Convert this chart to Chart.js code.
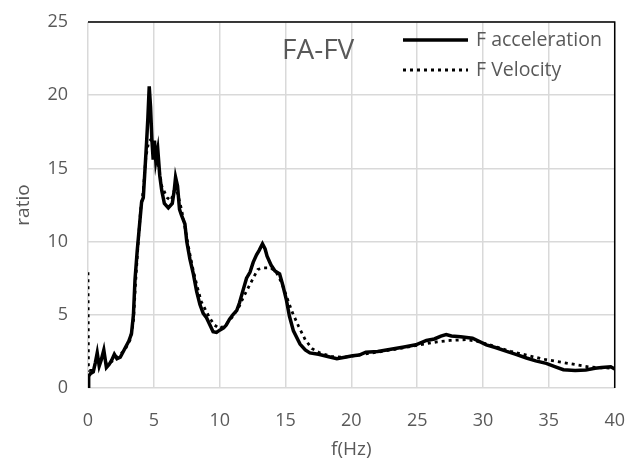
<!DOCTYPE html>
<html>
<head>
<meta charset="utf-8">
<script src="https://cdn.jsdelivr.net/npm/chart.js@4/dist/chart.umd.min.js"></script>
<style>
  html, body { margin: 0; padding: 0; background: #fff; }
  #wrap { width: 627px; height: 461px; }
</style>
</head>
<body>
<div id="wrap"><canvas id="chart" width="627" height="461"></canvas></div>
<script>
// values
const accelFreq = [0, 0.05, 0.2, 0.4, 0.55, 0.7, 0.85, 1.0, 1.2, 1.4, 1.6, 1.8, 2.0, 2.2, 2.45, 2.8, 3.1, 3.3,
  3.45, 3.57, 3.74, 3.95, 4.07, 4.2, 4.3, 4.45, 4.55, 4.65, 4.75, 4.85, 4.95, 5.05, 5.15, 5.3, 5.45, 5.6,
  5.8, 6.1, 6.4, 6.55, 6.65, 6.8, 6.95, 7.1, 7.36, 7.5, 7.74, 8.0, 8.25, 8.5, 8.75, 9.0, 9.26, 9.5, 9.76,
  10.0, 10.3, 10.5, 10.75, 11.0, 11.3, 11.5, 11.75, 12.04, 12.3, 12.55, 12.8, 13.0, 13.25, 13.45, 13.6,
  13.9, 14.2, 14.55, 14.8, 15.07, 15.3, 15.6, 16.1, 16.5, 16.85, 17.5, 18.2, 18.9, 19.5, 20.1, 20.6, 21.1,
  22.0, 23.0, 24.0, 24.9, 25.7, 26.3, 26.8, 27.2, 27.6, 28.3, 29.2, 30.25, 31.0, 31.8, 32.5, 33.3, 34.0,
  34.8, 35.5, 36.1, 37.0, 37.8, 38.5, 39.0, 39.7, 40.0];
const accelRatio = [0, 0.8, 1.0, 1.1, 1.7, 2.4, 1.5, 1.9, 2.6, 1.4, 1.6, 1.9, 2.3, 2.0, 2.1, 2.7, 3.2, 3.7,
  5.0, 7.4, 9.4, 11.5, 12.7, 13.0, 14.5, 16.8, 18.5, 20.6, 19.2, 17.0, 15.6, 16.9, 15.5, 16.3, 14.5, 13.5,
  12.6, 12.3, 12.6, 13.5, 14.4, 13.8, 12.2, 11.8, 11.2, 10.0, 8.8, 7.8, 6.6, 5.7, 5.1, 4.8, 4.3, 3.85, 3.8,
  3.95, 4.1, 4.3, 4.7, 5.0, 5.3, 5.8, 6.6, 7.5, 7.9, 8.6, 9.1, 9.4, 9.85, 9.5, 9.0,
  8.4, 8.0, 7.8, 7.0, 6.0, 4.9, 3.9, 3.0, 2.6, 2.4, 2.3, 2.15, 2.0, 2.1, 2.2, 2.25, 2.45,
  2.5, 2.65, 2.8, 2.95, 3.25, 3.35, 3.55, 3.65, 3.55, 3.5, 3.4, 2.95, 2.75, 2.5, 2.3, 2.05, 1.85,
  1.68, 1.45, 1.25, 1.2, 1.23, 1.35, 1.4, 1.45, 1.3];

const velFreq = [0, 0.03, 0.1, 0.4, 0.7, 0.9, 1.2, 1.4, 1.8, 2.2, 2.8, 3.2, 3.45, 3.6, 3.8, 4.0, 4.2, 4.4,
  4.6, 4.8, 5.0, 5.3, 5.6, 6.0, 6.3, 6.6, 6.8, 7.1, 7.4, 7.7, 8.0, 8.3, 8.6, 9.0, 9.3, 9.6, 10.0, 10.5,
  11.0, 11.5, 11.8, 12.2, 12.6, 12.9, 13.3, 13.9, 14.3, 14.7, 15.1, 15.5, 16.0, 16.5, 17.0, 17.6, 18.5,
  19.5, 20.5, 22.0, 24.0, 25.5, 26.5, 27.5, 28.7, 29.5, 30.5, 32.1, 33.5, 34.7, 36.0, 37.2, 38.0, 39.0, 40.0];
const velRatio = [7.9, 1.5, 1.2, 1.2, 2.1, 1.7, 2.3, 1.6, 1.8, 2.1, 2.6, 3.3, 4.5, 7.0, 9.8, 12.2, 13.5, 15.8,
  16.8, 17.0, 16.6, 15.5, 13.8, 13.0, 12.8, 13.6, 13.3, 12.2, 10.8, 9.3, 8.0, 6.9, 5.9, 5.2, 4.7, 4.3, 4.05, 4.35,
  4.9, 5.6, 6.2, 6.9, 7.6, 8.1, 8.2, 8.2, 7.9, 7.2, 6.2, 5.2, 4.2, 3.3, 2.7, 2.4, 2.15,
  2.1, 2.25, 2.45, 2.75, 3.0, 3.15, 3.25, 3.3, 3.2, 2.95, 2.5, 2.2, 1.95, 1.75, 1.57, 1.45, 1.38, 1.35];

const seriesLabels = ['F acceleration', 'F Velocity'];
const chartTitle = 'FA-FV';
const xTitle = 'f(Hz)';
const yTitle = 'ratio';

const textColor = '#595959';
const gridColor = '#d9d9d9';
const fontFamily = '"Open Sans", "Liberation Sans", sans-serif';

const toPoints = (xs, ys) => xs.map((x, i) => ({ x, y: ys[i] }));

// title, legend and the black top/right frame drawn inside the plot area
const overlayPlugin = {
  id: 'overlay',
  afterDraw(chart) {
    const { ctx, chartArea } = chart;
    ctx.save();
    ctx.strokeStyle = '#000';
    ctx.lineWidth = 1.5;
    ctx.beginPath();
    ctx.moveTo(chartArea.left, chartArea.top);
    ctx.lineTo(chartArea.right, chartArea.top);
    ctx.lineTo(chartArea.right, chartArea.bottom);
    ctx.stroke();

    ctx.fillStyle = textColor;
    ctx.font = `28px ${fontFamily}`;
    ctx.textBaseline = 'middle';
    ctx.textAlign = 'left';
    ctx.fillText(chartTitle, 282, 51);

    ctx.font = `19.5px ${fontFamily}`;
    chart.data.datasets.forEach((ds, i) => {
      const y = 40 + i * 30;
      ctx.strokeStyle = ds.borderColor;
      ctx.lineWidth = ds.borderWidth;
      ctx.setLineDash(ds.borderDash || []);
      ctx.beginPath();
      ctx.moveTo(403, y);
      ctx.lineTo(468, y);
      ctx.stroke();
      ctx.setLineDash([]);
      ctx.fillText(ds.label, 476, y);
    });
    ctx.restore();
  },
};

// gap between axis and tick labels comes from invisible tick marks,
// so that tick padding does not grow the outer margins
const hiddenTicks = (len) => ({
  color: gridColor, lineWidth: 1.5, drawTicks: true, tickLength: len, tickColor: 'rgba(0,0,0,0)',
});

new Chart(document.getElementById('chart'), {
  type: 'scatter',
  data: {
    datasets: [
      {
        label: seriesLabels[0],
        data: toPoints(accelFreq, accelRatio),
        showLine: true,
        borderColor: '#000',
        borderWidth: 3.5,
        pointRadius: 0,
        tension: 0,
      },
      {
        label: seriesLabels[1],
        data: toPoints(velFreq, velRatio),
        showLine: true,
        borderColor: '#000',
        borderWidth: 2.8,
        borderDash: [3, 4],
        pointRadius: 0,
        tension: 0,
      },
    ],
  },
  options: {
    responsive: false,
    animation: false,
    layout: { padding: { left: 0, top: 22, right: 12, bottom: 0 } },
    plugins: {
      legend: { display: false },
      tooltip: { enabled: false },
    },
    scales: {
      x: {
        type: 'linear',
        min: 0,
        max: 40,
        ticks: { stepSize: 5, color: textColor, font: { family: fontFamily, size: 18 }, padding: 2 },
        grid: hiddenTicks(20),
        border: { display: false },
        title: { display: true, text: xTitle, color: textColor, font: { family: fontFamily, size: 19 }, padding: 0 },
        afterFit(scale) { scale.height = 73; },
      },
      y: {
        min: 0,
        max: 25,
        ticks: { stepSize: 5, color: textColor, font: { family: fontFamily, size: 18 }, padding: 2 },
        grid: hiddenTicks(18),
        border: { display: false },
        title: { display: true, text: yTitle, color: textColor, font: { family: fontFamily, size: 19 }, padding: { top: 12, bottom: 0 } },
        afterFit(scale) { scale.width = 88; },
      },
    },
  },
  plugins: [overlayPlugin],
});
</script>
</body>
</html>
